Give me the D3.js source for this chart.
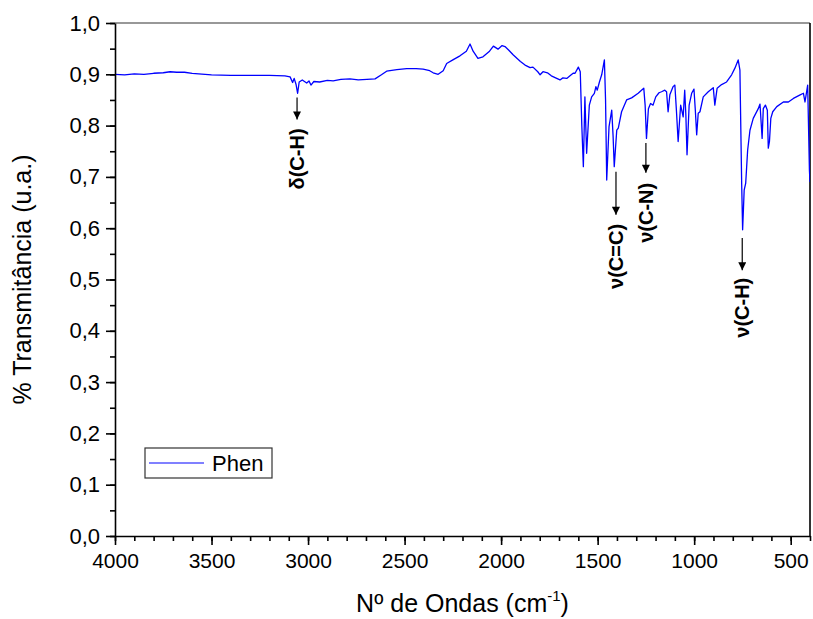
<!DOCTYPE html>
<html>
<head>
<meta charset="utf-8">
<script src="https://cdn.jsdelivr.net/npm/d3@7"></script>
<style>
  body { margin: 0; background: #fff; }
  svg { display: block; }
  text { font-family: Arial, "Liberation Sans", sans-serif; fill: #000; }
</style>
</head>
<body>
<svg id="chart" width="813" height="619"></svg>
<script>
// FTIR spectrum of Phen: wavenumber (cm-1) and transmittance (a.u.)
const seriesName = "Phen";

const wavenumber = [
  4000, 3950, 3900, 3850, 3800, 3750, 3715, 3680, 3640, 3600, 3500, 3400, 3300, 3200,
  3120, 3093, 3080, 3072, 3062, 3054, 3046, 3030, 3007, 2995, 2985, 2970, 2940, 2900,
  2870, 2830, 2783, 2740, 2695, 2653, 2620, 2593, 2540, 2489, 2440, 2404, 2370, 2352,
  2326, 2300, 2282, 2250, 2213, 2180, 2161, 2145, 2120, 2094, 2060, 2040, 2016, 1995,
  1980, 1960, 1938, 1900, 1876, 1850, 1835, 1810, 1798, 1783, 1760, 1740, 1712, 1695,
  1680, 1660, 1640, 1627, 1617, 1600, 1590, 1582, 1574, 1566, 1557, 1543, 1531, 1517,
  1509, 1502, 1490, 1479, 1465, 1459, 1453, 1441, 1427, 1420, 1414, 1401, 1393, 1376,
  1350, 1324, 1290, 1273, 1261, 1254, 1247, 1237, 1226, 1213, 1199, 1182, 1169, 1152,
  1143, 1135, 1126, 1109, 1100, 1092, 1083, 1070, 1057, 1049, 1043, 1037, 1026, 1013,
  1001, 994, 987, 979, 970, 953, 927, 901, 893, 881, 858, 832, 806, 789,
  772, 763, 754, 749, 741, 733, 723, 711, 694, 668, 659, 648, 642, 631,
  621, 616, 610, 603, 593, 572, 538, 512, 486, 451, 434, 426, 412, 403, 400
];

const transmittance = [
  0.900, 0.899, 0.901, 0.900, 0.902, 0.903, 0.905, 0.904, 0.904, 0.902, 0.899, 0.898, 0.898, 0.898,
  0.897, 0.895, 0.884, 0.892, 0.880, 0.863, 0.885, 0.889, 0.883, 0.887, 0.879, 0.886, 0.885, 0.888,
  0.887, 0.890, 0.891, 0.889, 0.890, 0.891, 0.899, 0.906, 0.909, 0.911, 0.911, 0.910, 0.907, 0.903,
  0.900, 0.907, 0.921, 0.928, 0.936, 0.945, 0.959, 0.945, 0.931, 0.934, 0.945, 0.955, 0.949, 0.956,
  0.954, 0.947, 0.938, 0.925, 0.918, 0.913, 0.914, 0.905, 0.899, 0.905, 0.903, 0.897, 0.892, 0.889,
  0.893, 0.892, 0.898, 0.902, 0.902, 0.914, 0.905, 0.800, 0.720, 0.856, 0.746, 0.840, 0.856, 0.863,
  0.876, 0.869, 0.886, 0.899, 0.928, 0.850, 0.694, 0.798, 0.830, 0.780, 0.720, 0.791, 0.795, 0.827,
  0.850, 0.854, 0.863, 0.869, 0.873, 0.840, 0.775, 0.833, 0.843, 0.840, 0.856, 0.864, 0.866, 0.869,
  0.866, 0.827, 0.860, 0.876, 0.879, 0.830, 0.769, 0.840, 0.817, 0.869, 0.820, 0.743, 0.840, 0.863,
  0.871, 0.830, 0.782, 0.824, 0.827, 0.856, 0.866, 0.874, 0.840, 0.873, 0.880, 0.885, 0.899, 0.912,
  0.928, 0.908, 0.688, 0.597, 0.674, 0.688, 0.752, 0.791, 0.814, 0.833, 0.842, 0.775, 0.833, 0.840,
  0.830, 0.756, 0.769, 0.814, 0.827, 0.837, 0.846, 0.846, 0.853, 0.860, 0.863, 0.846, 0.879, 0.713, 0.690
];

const xTickValues = [4000, 3500, 3000, 2500, 2000, 1500, 1000, 500];
const xMinorValues = d3.range(4000, 399, -100);
const yTickValues = [0.0, 0.1, 0.2, 0.3, 0.4, 0.5, 0.6, 0.7, 0.8, 0.9, 1.0];
const yMinorValues = d3.range(0, 1.001, 0.05);

// Band assignments: wavenumber, arrow start/end and label centre (transmittance units)
const bandLabels = ["δ(C-H)", "ν(C=C)", "ν(C-N)", "ν(C-H)"];
const bandWavenumber = [3057, 1405, 1250, 751];
const bandArrowFrom = [0.855, 0.710, 0.766, 0.581];
const bandArrowTo = [0.812, 0.626, 0.708, 0.518];
const bandLabelAt = [0.735, 0.545, 0.630, 0.445];

const xTitle = "Nº de Ondas (cm";
const yTitle = "% Transmitância (u.a.)";

const svg = d3.select("#chart");
const plot = { left: 115, right: 810, top: 23, bottom: 536 };

const x = d3.scaleLinear().domain([4000, 400]).range([plot.left, plot.right]);
const y = d3.scaleLinear().domain([0, 1]).range([plot.bottom, plot.top]);
const fmtY = d => d3.format(".1f")(d).replace(".", ",");
const fmtX = d3.format("d");

svg.append("defs").append("clipPath").attr("id", "clip")
  .append("rect")
  .attr("x", plot.left).attr("y", plot.top)
  .attr("width", plot.right - plot.left).attr("height", plot.bottom - plot.top);

svg.append("defs").append("marker")
  .attr("id", "arrowhead")
  .attr("viewBox", "0 0 10 10")
  .attr("refX", 10).attr("refY", 5)
  .attr("markerWidth", 10).attr("markerHeight", 8)
  .attr("markerUnits", "userSpaceOnUse")
  .attr("orient", "auto")
  .append("path").attr("d", "M0,0 L10,5 L0,10 Z").attr("fill", "#000");

// frame: top and right edges
svg.append("line")
  .attr("x1", plot.left).attr("x2", plot.right)
  .attr("y1", plot.top).attr("y2", plot.top)
  .attr("stroke", "#333").attr("stroke-width", 1.2);
svg.append("line")
  .attr("x1", plot.right).attr("x2", plot.right)
  .attr("y1", plot.top).attr("y2", plot.bottom)
  .attr("stroke", "#000").attr("stroke-width", 1.6);

// spectrum
const line = d3.line()
  .x((d, i) => x(wavenumber[i]))
  .y(d => y(d));
svg.append("path")
  .datum(transmittance)
  .attr("clip-path", "url(#clip)")
  .attr("fill", "none")
  .attr("stroke", "#0000ff")
  .attr("stroke-width", 1.3)
  .attr("stroke-linejoin", "round")
  .attr("d", line);

// axes
const xMinor = svg.append("g").attr("transform", `translate(0,${plot.bottom})`)
  .call(d3.axisBottom(x).tickValues(xMinorValues).tickSize(5).tickFormat(""));
const xAxis = svg.append("g").attr("transform", `translate(0,${plot.bottom})`)
  .call(d3.axisBottom(x).tickValues(xTickValues).tickSize(9).tickPadding(8).tickSizeOuter(0).tickFormat(fmtX));
const yMinor = svg.append("g").attr("transform", `translate(${plot.left},0)`)
  .call(d3.axisLeft(y).tickValues(yMinorValues).tickSize(5).tickFormat(""));
const yAxis = svg.append("g").attr("transform", `translate(${plot.left},0)`)
  .call(d3.axisLeft(y).tickValues(yTickValues).tickSize(9).tickPadding(6).tickSizeOuter(0).tickFormat(fmtY));

[xMinor, xAxis, yMinor, yAxis].forEach(g => {
  g.select(".domain").attr("stroke", "#000").attr("stroke-width", 1.6);
  g.selectAll(".tick line").attr("stroke", "#000").attr("stroke-width", 1.6);
  g.selectAll(".tick text").attr("font-family", "Arial, 'Liberation Sans', sans-serif").attr("fill", "#000");
});
xAxis.selectAll(".tick text").attr("font-size", 21);
yAxis.selectAll(".tick text").attr("font-size", 22);
xMinor.select(".domain").remove();
yMinor.select(".domain").remove();

// axis titles
const xt = svg.append("text")
  .attr("x", (plot.left + plot.right) / 2).attr("y", 612)
  .attr("text-anchor", "middle").attr("font-size", 25);
xt.append("tspan").text(xTitle);
xt.append("tspan").attr("font-size", 15).attr("dy", -11).text("-1");
xt.append("tspan").attr("dy", 11).text(")");

svg.append("text")
  .attr("transform", `translate(22,${(plot.top + plot.bottom) / 2}) rotate(-90)`)
  .attr("text-anchor", "middle").attr("dy", "0.35em")
  .attr("font-size", 25)
  .text(yTitle);

// band assignments
bandLabels.forEach((label, i) => {
  const bx = x(bandWavenumber[i]);
  svg.append("line")
    .attr("x1", bx).attr("x2", bx)
    .attr("y1", y(bandArrowFrom[i])).attr("y2", y(bandArrowTo[i]))
    .attr("stroke", "#000").attr("stroke-width", 1.2)
    .attr("marker-end", "url(#arrowhead)");
  svg.append("text")
    .attr("transform", `translate(${bx},${y(bandLabelAt[i])}) rotate(-90)`)
    .attr("text-anchor", "middle").attr("dy", "0.35em")
    .attr("font-size", 20).attr("font-weight", "bold")
    .text(label);
});

// legend
const legend = svg.append("g");
legend.append("rect")
  .attr("x", 145).attr("y", 448).attr("width", 127).attr("height", 30)
  .attr("fill", "#fff").attr("stroke", "#333").attr("stroke-width", 1.2);
legend.append("line")
  .attr("x1", 149).attr("x2", 204).attr("y1", 463).attr("y2", 463)
  .attr("stroke", "#8080ff").attr("stroke-width", 2);
legend.append("text")
  .attr("x", 212).attr("y", 471).attr("font-size", 22)
  .text(seriesName);
</script>
</body>
</html>
